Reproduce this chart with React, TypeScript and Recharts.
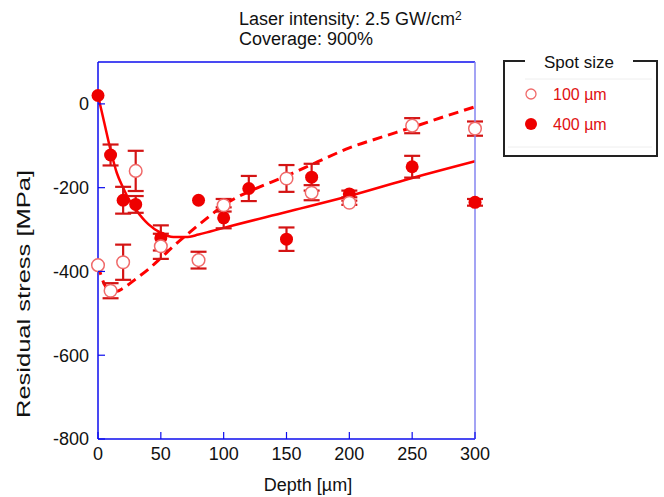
import React from "react";
import {
  ComposedChart,
  XAxis,
  YAxis,
  Scatter,
  Line,
  ErrorBar,
} from "recharts";

// ---- data ----
const xTicks = [0, 50, 100, 150, 200, 250, 300];
const yTicks = [-800, -600, -400, -200, 0];

const depth400 = [0, 10, 20, 30, 50, 80, 100, 120, 150, 170, 200, 250, 300];
const stress400 = [20, -122, -230, -240, -320, -230, -272, -202, -323, -175, -215, -150, -235];
const err400 = [0, 25, 32, 20, 30, 0, 25, 30, 28, 32, 8, 26, 8];

const depth100 = [0, 10, 20, 30, 50, 80, 100, 150, 170, 200, 250, 300];
const stress100 = [-385, -446, -378, -160, -340, -373, -242, -178, -212, -236, -52, -59];
const err100 = [0, 18, 42, 48, 30, 20, 15, 32, 18, 5, 18, 17];

const fit400X = [0, 5, 10, 15, 20, 25, 30, 40, 50, 60, 70, 80, 90, 100, 150, 200, 250, 300];
const fit400Y = [20, -45, -110, -165, -200, -230, -252, -287, -308, -318, -318, -312, -304, -296, -258, -220, -177, -137];

const fit100X = [0, 5, 10, 15, 20, 30, 40, 50, 60, 70, 80, 90, 100, 110, 125, 150, 175, 200, 225, 250, 275, 300];
const fit100Y = [-385, -430, -446, -447, -440, -418, -395, -368, -340, -314, -289, -265, -242, -224, -203, -172, -138, -105, -80, -56, -31, -7];

const pts400 = depth400.map((x, i) => ({ x, y: stress400[i], err: err400[i] }));
const pts100 = depth100.map((x, i) => ({ x, y: stress100[i], err: err100[i] }));
const line400 = fit400X.map((x, i) => ({ x, y: fit400Y[i] }));
const line100 = fit100X.map((x, i) => ({ x, y: fit100Y[i] }));

const FONT = "'Liberation Sans', Arial, Helvetica, sans-serif";
const RED = "#ff0000";
const DOT = "#ee0000";
const BAR = "#d41414";
const OPEN = "#f06a6a";
const AXIS = "#0c0cee";
const AXIS_R = "#8484f0";
const TICK_LEN = 7;

const FilledDot = (p: any) => <circle cx={p.cx} cy={p.cy} r={6.5} fill={DOT} />;
const OpenDot = (p: any) => (
  <circle cx={p.cx} cy={p.cy} r={6.3} fill="#ffffff" stroke={OPEN} strokeWidth={1.5} />
);

const BottomTick = (p: any) => {
  const ay = p.y - 8;
  return (
    <g>
      <line x1={p.x} y1={ay} x2={p.x} y2={ay - TICK_LEN} stroke={AXIS} strokeWidth={1.2} />
      <text x={p.x} y={p.y} dy="0.71em" textAnchor="middle" fontSize={18} fontFamily={FONT} fill="#111">
        {p.payload.value}
      </text>
    </g>
  );
};
const TopTick = (p: any) => (
  <line x1={p.x} y1={p.y} x2={p.x} y2={p.y + TICK_LEN} stroke={AXIS} strokeWidth={1.2} />
);
const LeftTick = (p: any) => {
  const ax = p.x + 9;
  return (
    <g>
      <line x1={ax} y1={p.y} x2={ax + TICK_LEN} y2={p.y} stroke={AXIS} strokeWidth={1.2} />
      <text x={p.x} y={p.y} dy="0.36em" textAnchor="end" fontSize={18} fontFamily={FONT} fill="#111">
        {p.payload.value}
      </text>
    </g>
  );
};
const RightTick = (p: any) => (
  <line x1={p.x} y1={p.y} x2={p.x - TICK_LEN} y2={p.y} stroke={AXIS_R} strokeWidth={1.2} />
);

export default function App() {
  return (
    <div style={{ position: "absolute", left: 0, top: 0, width: 664, height: 497, background: "#fff" }}>
      <ComposedChart
        width={664}
        height={497}
        margin={{ top: 52, right: 179, bottom: 28, left: 38 }}
      >
        <XAxis
          xAxisId={0}
          type="number"
          dataKey="x"
          domain={[0, 300]}
          ticks={xTicks}
          interval={0}
          height={30}
          axisLine={{ stroke: AXIS, strokeWidth: 1.5 }}
          tickLine={false}
          tickSize={0}
          tickMargin={8}
          tick={BottomTick}
        />
        <XAxis
          xAxisId="top"
          orientation="top"
          type="number"
          dataKey="x"
          domain={[0, 300]}
          ticks={xTicks}
          interval={0}
          height={10}
          axisLine={{ stroke: AXIS, strokeWidth: 1.5 }}
          tickLine={false}
          tickSize={0}
          tickMargin={0}
          tick={TopTick}
        />
        <YAxis
          yAxisId={0}
          type="number"
          dataKey="y"
          domain={[-800, 100]}
          ticks={yTicks}
          interval={0}
          width={60}
          axisLine={{ stroke: AXIS, strokeWidth: 1.5 }}
          tickLine={false}
          tickSize={0}
          tickMargin={9}
          tick={LeftTick}
        />
        <YAxis
          yAxisId="right"
          orientation="right"
          type="number"
          dataKey="y"
          domain={[-800, 100]}
          ticks={yTicks}
          interval={0}
          width={10}
          axisLine={{ stroke: AXIS_R, strokeWidth: 1.5 }}
          tickLine={false}
          tickSize={0}
          tickMargin={0}
          tick={RightTick}
        />
        <Line
          data={line400}
          dataKey="y"
          type="monotone"
          stroke={RED}
          strokeWidth={2.5}
          dot={false}
          activeDot={false}
          isAnimationActive={false}
        />
        <Line
          data={line100}
          dataKey="y"
          type="monotone"
          stroke={RED}
          strokeWidth={3}
          strokeDasharray="10 6"
          dot={false}
          activeDot={false}
          isAnimationActive={false}
        />
        <Scatter data={pts400} dataKey="y" shape={FilledDot} isAnimationActive={false}>
          <ErrorBar dataKey="err" direction="y" width={8} strokeWidth={2.2} stroke={BAR} />
        </Scatter>
        <Scatter data={pts100} dataKey="y" shape={OpenDot} isAnimationActive={false}>
          <ErrorBar dataKey="err" direction="y" width={8} strokeWidth={2.2} stroke={BAR} />
        </Scatter>
      </ComposedChart>

      <svg
        width={664}
        height={497}
        style={{ position: "absolute", left: 0, top: 0, pointerEvents: "none" }}
        fontFamily={FONT}
      >
        <text x={239} y={25} fontSize={18} fill="#111">
          Laser intensity: 2.5 GW/cm<tspan fontSize={12} dy={-5}>2</tspan>
        </text>
        <text x={239} y={45} fontSize={18} fill="#111">
          Coverage: 900%
        </text>
        <text x={308} y={491} fontSize={18} fill="#111" textAnchor="middle">
          Depth [µm]
        </text>
        <text
          x={30}
          y={294}
          fontSize={18}
          fill="#111"
          textAnchor="middle"
          textLength={248}
          lengthAdjust="spacingAndGlyphs"
          transform="rotate(-90 30 294)"
        >
          Residual stress [MPa]
        </text>

        {/* legend */}
        <path d="M525,61 H504 V156 H657 V61 H633" fill="none" stroke="#222" strokeWidth={2} />
        <line x1={525} y1={79} x2={652} y2={79} stroke="#eeeeee" strokeWidth={1} />
        <line x1={508} y1={147} x2={652} y2={147} stroke="#eeeeee" strokeWidth={1} />
        <text x={579} y={68} fontSize={17} fill="#111" textAnchor="middle">
          Spot size
        </text>
        <circle cx={531} cy={94} r={5} fill="#fff" stroke={OPEN} strokeWidth={1.3} />
        <text x={553} y={99.5} fontSize={16} fill="#e01010">
          100 µm
        </text>
        <circle cx={531} cy={124} r={6} fill={DOT} />
        <text x={553} y={129.5} fontSize={16} fill="#e01010">
          400 µm
        </text>
      </svg>
    </div>
  );
}
